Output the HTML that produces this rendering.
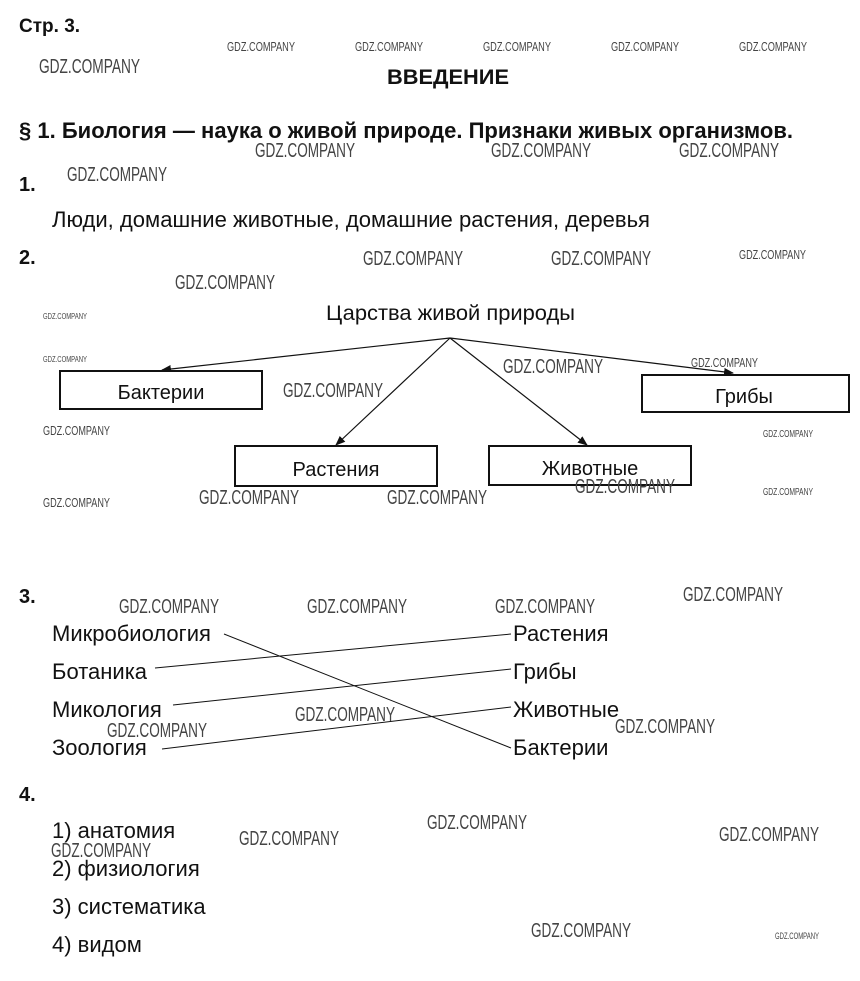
<!DOCTYPE html>
<html><head><meta charset="utf-8"><style>
html,body{margin:0;padding:0;background:#fff;width:860px;height:981px;overflow:hidden}
svg{display:block}
.t{font-family:"Liberation Sans","Noto Sans CJK SC",sans-serif;fill:#111}
.b{font-weight:bold}
.w{font-family:"Liberation Sans",sans-serif;fill:#444}
</style></head><body>
<svg width="860" height="981" viewBox="0 0 860 981" xmlns="http://www.w3.org/2000/svg">
<defs><marker id="a" markerWidth="10" markerHeight="8" refX="9" refY="4" orient="auto" markerUnits="userSpaceOnUse"><path d="M0,0 L10,4 L0,8 Z" fill="#111"/></marker></defs>
<text class="t b" x="19" y="32" font-size="19">Стр. 3.</text>
<text class="t b" x="448" y="84" font-size="21" text-anchor="middle" textLength="122" lengthAdjust="spacingAndGlyphs">ВВЕДЕНИЕ</text>
<text class="t b" x="19" y="138" font-size="22" textLength="774" lengthAdjust="spacingAndGlyphs">§ 1. Биология — наука о живой природе. Признаки живых организмов.</text>
<text class="t b" x="19" y="191" font-size="20">1.</text>
<text class="t" x="52" y="227" font-size="22" textLength="598" lengthAdjust="spacingAndGlyphs">Люди, домашние животные, домашние растения, деревья</text>
<text class="t b" x="19" y="264" font-size="20">2.</text>
<text class="t" x="326" y="320" font-size="21" textLength="249" lengthAdjust="spacingAndGlyphs">Царства живой природы</text>
<g stroke="#111" stroke-width="1.2" fill="none">
<line x1="450" y1="338" x2="162" y2="370" marker-end="url(#a)"/>
<line x1="450" y1="338" x2="336" y2="445" marker-end="url(#a)"/>
<line x1="450" y1="338" x2="587" y2="445" marker-end="url(#a)"/>
<line x1="450" y1="338" x2="733" y2="373" marker-end="url(#a)"/>
</g>
<g stroke="#111" stroke-width="2" fill="#fff">
<rect x="60" y="371" width="202" height="38"/>
<rect x="642" y="375" width="207" height="37"/>
<rect x="235" y="446" width="202" height="40"/>
<rect x="489" y="446" width="202" height="39"/>
</g>
<text class="t" x="161" y="399" font-size="20" text-anchor="middle">Бактерии</text>
<text class="t" x="744" y="403" font-size="20" text-anchor="middle">Грибы</text>
<text class="t" x="336" y="476" font-size="20" text-anchor="middle">Растения</text>
<text class="t" x="590" y="475" font-size="20" text-anchor="middle">Животные</text>
<text class="t b" x="19" y="603" font-size="20">3.</text>
<g class="t" font-size="22">
<text x="52" y="641">Микробиология</text>
<text x="52" y="679">Ботаника</text>
<text x="52" y="717">Микология</text>
<text x="52" y="755">Зоология</text>
<text x="513" y="641">Растения</text>
<text x="513" y="679">Грибы</text>
<text x="513" y="717">Животные</text>
<text x="513" y="755">Бактерии</text>
</g>
<g stroke="#111" stroke-width="1">
<line x1="224" y1="634" x2="511" y2="748"/>
<line x1="155" y1="668" x2="511" y2="634"/>
<line x1="173" y1="705" x2="511" y2="669"/>
<line x1="162" y1="749" x2="511" y2="707"/>
</g>
<text class="t b" x="19" y="801" font-size="20">4.</text>
<g class="t" font-size="22">
<text x="52" y="838">1) анатомия</text>
<text x="52" y="876">2) физиология</text>
<text x="52" y="914">3) систематика</text>
<text x="52" y="952">4) видом</text>
</g>
<g class="w">
<text x="227" y="51" font-size="13" textLength="68" lengthAdjust="spacingAndGlyphs">GDZ.COMPANY</text>
<text x="355" y="51" font-size="13" textLength="68" lengthAdjust="spacingAndGlyphs">GDZ.COMPANY</text>
<text x="483" y="51" font-size="13" textLength="68" lengthAdjust="spacingAndGlyphs">GDZ.COMPANY</text>
<text x="611" y="51" font-size="13" textLength="68" lengthAdjust="spacingAndGlyphs">GDZ.COMPANY</text>
<text x="739" y="51" font-size="13" textLength="68" lengthAdjust="spacingAndGlyphs">GDZ.COMPANY</text>
<text x="39" y="73" font-size="20" textLength="101" lengthAdjust="spacingAndGlyphs">GDZ.COMPANY</text>
<text x="255" y="157" font-size="20" textLength="100" lengthAdjust="spacingAndGlyphs">GDZ.COMPANY</text>
<text x="491" y="157" font-size="20" textLength="100" lengthAdjust="spacingAndGlyphs">GDZ.COMPANY</text>
<text x="679" y="157" font-size="20" textLength="100" lengthAdjust="spacingAndGlyphs">GDZ.COMPANY</text>
<text x="67" y="181" font-size="20" textLength="100" lengthAdjust="spacingAndGlyphs">GDZ.COMPANY</text>
<text x="363" y="265" font-size="20" textLength="100" lengthAdjust="spacingAndGlyphs">GDZ.COMPANY</text>
<text x="551" y="265" font-size="20" textLength="100" lengthAdjust="spacingAndGlyphs">GDZ.COMPANY</text>
<text x="739" y="259" font-size="13" textLength="67" lengthAdjust="spacingAndGlyphs">GDZ.COMPANY</text>
<text x="175" y="289" font-size="20" textLength="100" lengthAdjust="spacingAndGlyphs">GDZ.COMPANY</text>
<text x="43" y="319" font-size="8" textLength="44" lengthAdjust="spacingAndGlyphs">GDZ.COMPANY</text>
<text x="43" y="362" font-size="8" textLength="44" lengthAdjust="spacingAndGlyphs">GDZ.COMPANY</text>
<text x="503" y="373" font-size="20" textLength="100" lengthAdjust="spacingAndGlyphs">GDZ.COMPANY</text>
<text x="691" y="367" font-size="13" textLength="67" lengthAdjust="spacingAndGlyphs">GDZ.COMPANY</text>
<text x="283" y="397" font-size="20" textLength="100" lengthAdjust="spacingAndGlyphs">GDZ.COMPANY</text>
<text x="43" y="435" font-size="13" textLength="67" lengthAdjust="spacingAndGlyphs">GDZ.COMPANY</text>
<text x="763" y="437" font-size="10" textLength="50" lengthAdjust="spacingAndGlyphs">GDZ.COMPANY</text>
<text x="575" y="493" font-size="20" textLength="100" lengthAdjust="spacingAndGlyphs">GDZ.COMPANY</text>
<text x="199" y="504" font-size="20" textLength="100" lengthAdjust="spacingAndGlyphs">GDZ.COMPANY</text>
<text x="387" y="504" font-size="20" textLength="100" lengthAdjust="spacingAndGlyphs">GDZ.COMPANY</text>
<text x="43" y="507" font-size="13" textLength="67" lengthAdjust="spacingAndGlyphs">GDZ.COMPANY</text>
<text x="763" y="495" font-size="10" textLength="50" lengthAdjust="spacingAndGlyphs">GDZ.COMPANY</text>
<text x="683" y="601" font-size="20" textLength="100" lengthAdjust="spacingAndGlyphs">GDZ.COMPANY</text>
<text x="119" y="613" font-size="20" textLength="100" lengthAdjust="spacingAndGlyphs">GDZ.COMPANY</text>
<text x="307" y="613" font-size="20" textLength="100" lengthAdjust="spacingAndGlyphs">GDZ.COMPANY</text>
<text x="495" y="613" font-size="20" textLength="100" lengthAdjust="spacingAndGlyphs">GDZ.COMPANY</text>
<text x="295" y="721" font-size="20" textLength="100" lengthAdjust="spacingAndGlyphs">GDZ.COMPANY</text>
<text x="615" y="733" font-size="20" textLength="100" lengthAdjust="spacingAndGlyphs">GDZ.COMPANY</text>
<text x="107" y="737" font-size="20" textLength="100" lengthAdjust="spacingAndGlyphs">GDZ.COMPANY</text>
<text x="427" y="829" font-size="20" textLength="100" lengthAdjust="spacingAndGlyphs">GDZ.COMPANY</text>
<text x="719" y="841" font-size="20" textLength="100" lengthAdjust="spacingAndGlyphs">GDZ.COMPANY</text>
<text x="239" y="845" font-size="20" textLength="100" lengthAdjust="spacingAndGlyphs">GDZ.COMPANY</text>
<text x="51" y="857" font-size="20" textLength="100" lengthAdjust="spacingAndGlyphs">GDZ.COMPANY</text>
<text x="531" y="937" font-size="20" textLength="100" lengthAdjust="spacingAndGlyphs">GDZ.COMPANY</text>
<text x="775" y="939" font-size="9" textLength="44" lengthAdjust="spacingAndGlyphs">GDZ.COMPANY</text>
</g>
</svg>
</body></html>
